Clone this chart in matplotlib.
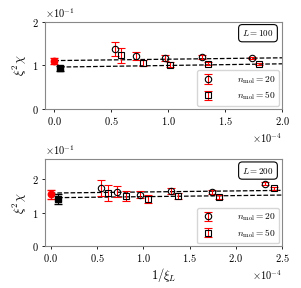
import matplotlib
matplotlib.use('Agg')
import matplotlib.pyplot as plt
import numpy as np

plt.rcParams['font.family'] = 'serif'
plt.rcParams['font.serif'] = ['cmr10', 'DejaVu Serif']
plt.rcParams['mathtext.fontset'] = 'cm'
plt.rcParams['axes.formatter.use_mathtext'] = True
plt.rcParams['axes.unicode_minus'] = False
plt.rcParams['font.size'] = 7.5

XS = 1e-4
YS = 1e-1

# L = 100 panel
x20_100 = [0.53, 0.72, 0.97, 1.30, 1.74]
y20_100 = [1.38, 1.21, 1.18, 1.19, 1.17]
e20_100 = [0.16, 0.09, 0.07, 0.04, 0.03]
x50_100 = [0.59, 0.78, 1.02, 1.35, 1.80]
y50_100 = [1.23, 1.05, 1.02, 1.04, 1.03]
e50_100 = [0.17, 0.07, 0.05, 0.03, 0.02]
ext20_100 = (0.0, 1.10, 0.07)
ext50_100 = (0.05, 0.93, 0.05)
fit20_100 = (1.11, 0.032)   # intercept, slope
fit50_100 = (0.96, 0.038)

# L = 200 panel
x20_200 = [0.54, 0.72, 0.97, 1.30, 1.74, 2.32]
y20_200 = [1.74, 1.63, 1.54, 1.65, 1.61, 1.87]
e20_200 = [0.24, 0.16, 0.10, 0.10, 0.06, 0.05]
x50_200 = [0.62, 0.81, 1.05, 1.38, 1.82, 2.41]
y50_200 = [1.59, 1.49, 1.40, 1.51, 1.48, 1.73]
e50_200 = [0.25, 0.15, 0.12, 0.09, 0.06, 0.05]
ext20_200 = (0.0, 1.55, 0.14)
ext50_200 = (0.08, 1.42, 0.15)
fit20_200 = (1.59, 0.032)
fit50_200 = (1.45, 0.032)

panels = [
    (x20_100, y20_100, e20_100, x50_100, y50_100, e50_100,
     ext20_100, ext50_100, fit20_100, fit50_100, 'L = 100', (-0.08, 2.0), 2.0),
    (x20_200, y20_200, e20_200, x50_200, y50_200, e50_200,
     ext20_200, ext50_200, fit20_200, fit50_200, 'L = 200', (-0.06, 2.5), 2.6),
]

fig = plt.figure(figsize=(3.01, 2.88), dpi=100)
axes = [fig.add_axes([0.15, 0.622, 0.787, 0.302]),
        fig.add_axes([0.15, 0.145, 0.787, 0.302])]

for ax, p in zip(axes, panels):
    (x20, y20, e20, x50, y50, e50, ext20, ext50, fit20, fit50, lab, xl, ytop) = p
    x20 = np.array(x20) * XS
    x50 = np.array(x50) * XS
    ax.errorbar(x20, np.array(y20) * YS, yerr=np.array(e20) * YS, fmt='o',
                mfc='none', mec='black', ms=4.6, mew=0.8, ecolor='red',
                elinewidth=0.8, capsize=3, label=r'$n_{\rm mol} = 20$', zorder=3)
    ax.errorbar(x50, np.array(y50) * YS, yerr=np.array(e50) * YS, fmt='s',
                mfc='none', mec='black', ms=4.6, mew=0.8, ecolor='red',
                elinewidth=0.8, capsize=3, label=r'$n_{\rm mol} = 50$', zorder=3)
    ax.errorbar([ext20[0] * XS], [ext20[1] * YS], yerr=[ext20[2] * YS], fmt='o',
                color='red', ms=4.6, elinewidth=0.8, capsize=3, zorder=4)
    ax.errorbar([ext50[0] * XS], [ext50[1] * YS], yerr=[ext50[2] * YS], fmt='s',
                color='black', ms=4.6, elinewidth=0.8, capsize=3, zorder=4)

    xx = np.linspace(ext20[0], xl[1], 50)
    ax.plot(xx * XS, (fit20[0] + fit20[1] * xx) * YS, '--k', lw=0.9, zorder=2)
    xx = np.linspace(ext50[0], xl[1], 50)
    ax.plot(xx * XS, (fit50[0] + fit50[1] * xx) * YS, '--k', lw=0.9, zorder=2)

    ax.set_xlim(xl[0] * XS, xl[1] * XS)
    ax.set_ylim(0, ytop * YS)
    ax.set_yticks(np.array([0, 1, 2]) * YS)
    ax.ticklabel_format(style='sci', axis='both', scilimits=(0, 0), useMathText=True)
    ax.set_ylabel(r'$\xi^2\chi$', fontsize=9, labelpad=2)
    for s in ax.spines.values():
        s.set_color('#888888')
    ax.tick_params(length=2.5, width=0.6, pad=2)
    ax.text(0.965, 0.87, '$' + lab + '$', transform=ax.transAxes, ha='right',
            va='center', fontsize=6.5,
            bbox=dict(boxstyle='round,pad=0.4', fc='white', ec='black', lw=0.8))
    ax.legend(loc='lower right', fontsize=6.8, handletextpad=2.2, borderpad=0.4,
              labelspacing=0.4, handlelength=1.6, borderaxespad=0.3)

axes[1].set_xlabel(r'$1/\xi_L$', fontsize=9, labelpad=1)

fig.savefig('out.png', dpi=100)
